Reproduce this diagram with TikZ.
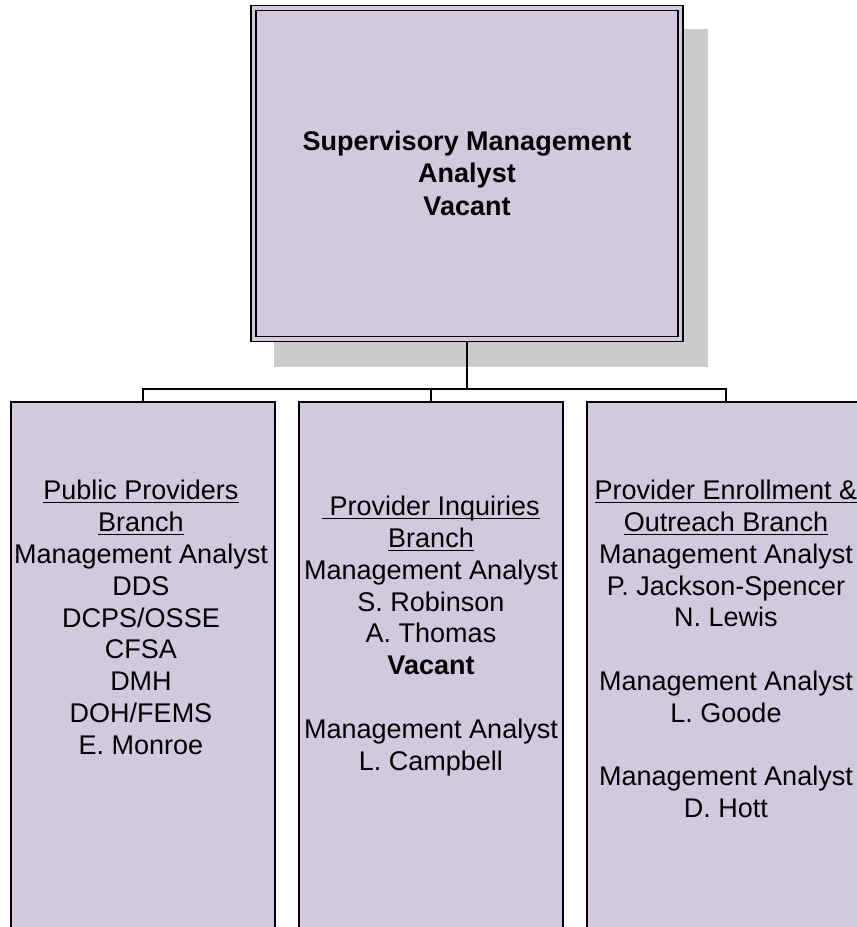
\documentclass[tikz,border=0pt]{standalone}
\usepackage{fontspec}
\setmainfont{Liberation Sans}
\definecolor{lav}{HTML}{D2C9DE}
\definecolor{shadowgray}{HTML}{CCCCCC}
\newsavebox\ulbox
\newcommand\ulx[1]{\sbox\ulbox{#1}\rlap{\rule[-0.13em]{\wd\ulbox}{0.045em}}\usebox\ulbox}
\tikzset{
  box/.style={draw=black, fill=lav, line width=1.5bp, rectangle, inner sep=0pt, outer sep=0pt},
  topbox/.style={draw=black, fill=lav, line width=1.5bp, double=lav, double distance=3.5bp,
    rectangle, inner sep=0pt, outer sep=3.25bp, minimum width=427bp, minimum height=331bp},
  branchbox/.style={box, minimum height=600bp, anchor=north},
  label/.style={align=center, inner sep=0pt, font=\fontsize{27bp}{31.8bp}\selectfont},
  conn/.style={draw=black, line width=1.3bp}
}
\begin{document}
\begin{tikzpicture}[x=1bp, y=-1bp]
\useasboundingbox (0,0) rectangle (857,927);
\clip (0,0) rectangle (857,927);
% shadow
\fill[fill=shadowgray] (274,29) rectangle (708,367);
% top box
\node[topbox] (top) at (467,173.7) {};
\node[label, font=\fontsize{27bp}{32.5bp}\selectfont\bfseries] (toptext) at (467,173) {Supervisory Management\\Analyst\\Vacant};
% branch boxes
\node[branchbox, minimum width=264bp] (b1) at (143,402) {};
\node[branchbox, minimum width=264bp] (b2) at (431,402) {};
\node[branchbox, minimum width=278bp] (b3) at (726,402) {};
% connectors
\coordinate (busL) at (143,389);
\coordinate (busR) at (726,389);
\draw[conn] (top.south) -- (top.south |- busL);
\draw[conn] (b1.north) -- (busL) -- (busR) -- (b3.north);
\draw[conn] (b2.north) -- (b2.north |- busL);
% texts
\node[label] (t1) at (141,617.5) {\ulx{Public Providers}\\\ulx{Branch}\\Management Analyst\\DDS\\DCPS/OSSE\\CFSA\\DMH\\DOH/FEMS\\E. Monroe};
\node[label] (t2) at (431,636) {\ulx{~Provider Inquiries}\\\ulx{Branch}\\Management Analyst\\S. Robinson\\A. Thomas\\\textbf{Vacant}\\[31.8bp]Management Analyst\\L. Campbell};
\node[label] (t3) at (726,649) {\ulx{Provider Enrollment \&}\\\ulx{Outreach Branch}\\Management Analyst\\P. Jackson-Spencer\\N. Lewis\\[31.8bp]Management Analyst\\L. Goode\\[31.8bp]Management Analyst\\D. Hott};
\end{tikzpicture}
\end{document}
